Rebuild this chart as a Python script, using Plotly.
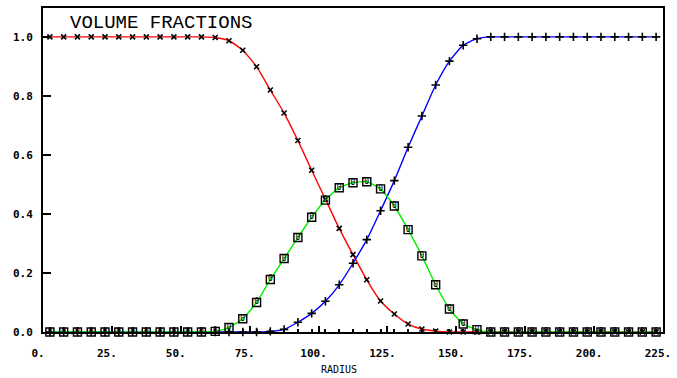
import plotly.graph_objects as go

radius = [2.5, 7.5, 12.5, 17.5, 22.5, 27.5, 32.5, 37.5, 42.5, 47.5,
          52.5, 57.5, 62.5, 67.5, 72.5, 77.5, 82.5, 87.5, 92.5, 97.5,
          102.5, 107.5, 112.5, 117.5, 122.5, 127.5, 132.5, 137.5, 142.5, 147.5,
          152.5, 157.5, 162.5, 167.5, 172.5, 177.5, 182.5, 187.5, 192.5, 197.5,
          202.5, 207.5, 212.5, 217.5, 222.5]

red_frac = [1.0, 1.0, 1.0, 1.0, 1.0, 1.0, 1.0, 1.0, 1.0, 1.0,
            1.0, 1.0, 0.998, 0.987, 0.955, 0.899, 0.820, 0.742, 0.649, 0.548,
            0.450, 0.351, 0.262, 0.177, 0.105, 0.061, 0.027, 0.010, 0.003, 0.0,
            0.0, 0.0, 0.0, 0.0, 0.0, 0.0, 0.0, 0.0, 0.0, 0.0,
            0.0, 0.0, 0.0, 0.0, 0.0]

green_frac = [0.0, 0.0, 0.0, 0.0, 0.0, 0.0, 0.0, 0.0, 0.0, 0.0,
              0.0, 0.0, 0.002, 0.015, 0.045, 0.100, 0.178, 0.249, 0.320, 0.389,
              0.447, 0.489, 0.506, 0.509, 0.485, 0.427, 0.347, 0.258, 0.160, 0.078,
              0.027, 0.008, 0.0, 0.0, 0.0, 0.0, 0.0, 0.0, 0.0, 0.0,
              0.0, 0.0, 0.0, 0.0, 0.0]

blue_frac = [0.0, 0.0, 0.0, 0.0, 0.0, 0.0, 0.0, 0.0, 0.0, 0.0,
             0.0, 0.0, 0.0, 0.0, 0.0, 0.0, 0.002, 0.009, 0.033, 0.063,
             0.104, 0.160, 0.233, 0.313, 0.411, 0.513, 0.626, 0.732, 0.837, 0.918,
             0.972, 0.994, 1.0, 1.0, 1.0, 1.0, 1.0, 1.0, 1.0, 1.0,
             1.0, 1.0, 1.0, 1.0, 1.0]

x_tickvals = [0, 25, 50, 75, 100, 125, 150, 175, 200, 225]
x_ticktext = ["0.", "25.", "50.", "75.", "100.", "125.", "150.", "175.", "200.", "225."]
y_tickvals = [0.0, 0.2, 0.4, 0.6, 0.8, 1.0]
y_ticktext = ["0.0", "0.2", "0.4", "0.6", "0.8", "1.0"]

title_text = "VOLUME FRACTIONS"
xlabel_text = "RADIUS"

mono = "DejaVu Sans Mono"

fig = go.Figure()

fig.add_trace(go.Scatter(
    x=radius, y=red_frac, mode="lines+markers",
    line=dict(color="#ff0000", width=1.4, shape="spline", smoothing=0.5),
    marker=dict(symbol="x-thin", size=5, color="black",
                line=dict(color="black", width=1.6)),
    cliponaxis=False, showlegend=False))

fig.add_trace(go.Scatter(
    x=radius, y=blue_frac, mode="lines+markers",
    line=dict(color="#0000ff", width=1.4, shape="spline", smoothing=0.5),
    marker=dict(symbol="cross-thin", size=6, color="black",
                line=dict(color="black", width=1.6)),
    cliponaxis=False, showlegend=False))

fig.add_trace(go.Scatter(
    x=radius, y=green_frac, mode="lines+markers+text",
    text=["0"] * len(radius), textposition="middle center",
    textfont=dict(family=mono, size=8, color="black"),
    line=dict(color="#00ee00", width=1.4, shape="spline", smoothing=0.5),
    marker=dict(symbol="square-open", size=8, color="black",
                line=dict(color="black", width=1.4)),
    cliponaxis=False, showlegend=False))

fig.add_annotation(x=0.041, y=0.955, xref="paper", yref="paper",
                   text=title_text, showarrow=False, xanchor="left", yanchor="middle",
                   font=dict(family="Liberation Mono", size=19, color="black"))
fig.add_annotation(x=0.478, y=-0.117, xref="paper", yref="paper",
                   text=xlabel_text, showarrow=False, xanchor="center", yanchor="middle",
                   font=dict(family=mono, size=10, color="black"))

fig.update_xaxes(
    range=[0, 225], tickvals=x_tickvals, ticktext=x_ticktext,
    ticks="inside", ticklen=6, tickwidth=1.5, tickcolor="black",
    minor=dict(tick0=2.5, dtick=5, ticks="inside", ticklen=3, tickwidth=1.5, tickcolor="black"),
    showline=True, linecolor="black", linewidth=2, mirror=True,
    showgrid=False, zeroline=False,
    ticklabelshift=-5, ticklabelstandoff=10, ticklabeloverflow="allow",
    tickfont=dict(family=mono, size=11, color="black", weight="bold"))

fig.update_yaxes(
    range=[0, 1.098], tickvals=y_tickvals, ticktext=y_ticktext,
    ticks="inside", ticklen=8, tickwidth=1.5, tickcolor="black",
    showline=True, linecolor="black", linewidth=2, mirror=True,
    showgrid=False, zeroline=False, ticklabelstandoff=6,
    tickfont=dict(family=mono, size=11, color="black", weight="bold"))

fig.update_layout(
    width=677, height=378,
    margin=dict(l=43, r=8, t=6, b=46),
    paper_bgcolor="white", plot_bgcolor="white")

fig.write_html("out.html", config={"displayModeBar": False},
               post_script="document.body.style.margin='0';document.body.style.padding='0';")
